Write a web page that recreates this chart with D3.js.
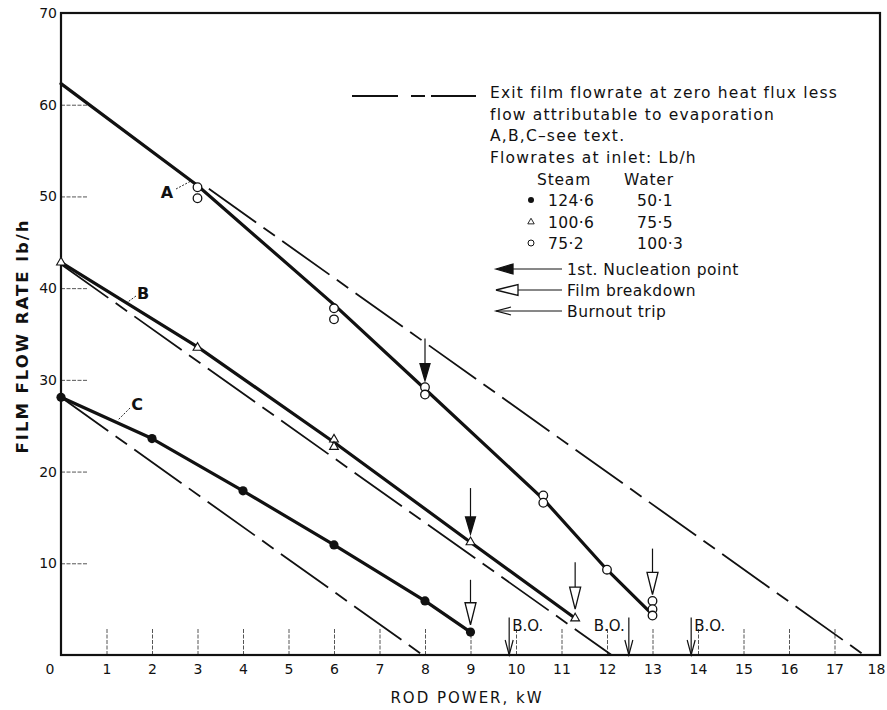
<!DOCTYPE html>
<html>
<head>
<meta charset="utf-8">
<script src="https://cdn.jsdelivr.net/npm/d3@7/dist/d3.min.js"></script>
<style>
  body { margin: 0; background: #fff; }
  text { font-family: "DejaVu Sans", "Liberation Sans", Arial, sans-serif; fill: #111; }
</style>
</head>
<body>
<svg id="chart" width="887" height="710"></svg>
<script>
// ---- axis ticks ----
const xTickValues = d3.range(1, 19);          // 1 … 18 kW
const yTickValues = [10, 20, 30, 40, 50, 60, 70];

// ---- curve A: steam 75·2, water 100·3 (open circles) ----
const aPointsX = [3, 3, 6, 6, 8, 8, 10.6, 10.6, 12, 13, 13, 13];
const aPointsY = [51.0, 49.8, 37.8, 36.6, 29.2, 28.4, 17.4, 16.6, 9.3, 5.9, 5.0, 4.3];
const aLineX = [0, 3, 6, 8, 10.6, 12, 13];
const aLineY = [62.3, 51.2, 38.2, 29.0, 17.0, 9.3, 4.4];

// ---- curve B: steam 100·6, water 75·5 (triangles) ----
const bPointsX = [0, 3, 6, 6, 9, 11.3];
const bPointsY = [42.8, 33.5, 23.5, 22.7, 12.3, 4.0];
const bLineX = [0, 3, 6, 9, 11.3];
const bLineY = [42.8, 33.6, 23.2, 12.3, 4.0];

// ---- curve C: steam 124·6, water 50·1 (filled circles) ----
const cPointsX = [0, 2, 4, 6, 8, 9];
const cPointsY = [28.1, 23.6, 17.9, 12.0, 5.9, 2.5];

// ---- zero-heat-flux lines less evaporation (long dash) ----
// intercepts on each axis, and the rod power where the dashed part starts
const zeroFluxY0 = [62.3, 42.6, 28.1];
const zeroFluxX0 = [17.65, 12.1, 7.95];
const zeroFluxDashFrom = [3.25, 0, 0];

// ---- event arrows: x position, shaft start value, tip value ----
const nucleationX = [8, 9];
const nucleationFrom = [34.5, 18.2];
const nucleationTo = [29.9, 13.2];
const breakdownX = [9, 11.3, 13];
const breakdownFrom = [8.2, 10.1, 11.6];
const breakdownTo = [3.3, 5.0, 6.6];
const burnoutX = [9.85, 12.48, 13.85];
const burnoutFrom = [4.1, 4.1, 4.1];
const burnoutLabelSide = ["right", "left", "right"];

// ---- legend text ----
const legendLines = [
  "Exit film flowrate at zero heat flux less",
  "flow attributable to evaporation",
  "A,B,C\u2013see text.",
  "Flowrates at inlet: Lb/h"
];
const legendSteam = ["124\u00b76", "100\u00b76", "75\u00b72"];
const legendWater = ["50\u00b71", "75\u00b75", "100\u00b73"];
const legendArrowLabels = ["1st. Nucleation point", "Film breakdown", "Burnout trip"];

// ---- scales ----
const svg = d3.select("#chart");
const x = d3.scaleLinear().domain([0, 18]).range([61, 880]);
const y = d3.scaleLinear().domain([0, 70]).range([655, 13]);
const FONT = "DejaVu Sans, Liberation Sans, Arial, sans-serif";

// ---- axes with inward ticks ----
const xAxis = d3.axisBottom(x).tickValues(xTickValues).tickSizeInner(-27).tickSizeOuter(0).tickPadding(9);
const gx = svg.append("g").attr("transform", `translate(0,${y(0)})`).call(xAxis);
gx.select(".domain").remove();
gx.selectAll(".tick line").attr("stroke", "#555").attr("stroke-width", 1).attr("stroke-dasharray", "4,1.5");
gx.selectAll(".tick text").attr("font-size", 14).style("font-family", FONT).attr("fill", "#111");
gx.selectAll(".tick").filter(d => d === 18).select("line").remove();
gx.selectAll(".tick").filter(d => d === 18).select("text").attr("dx", -4);

const yAxis = d3.axisLeft(y).tickValues(yTickValues).tickSizeInner(-26).tickSizeOuter(0).tickPadding(4);
const gy = svg.append("g").attr("transform", `translate(${x(0)},0)`).call(yAxis);
gy.select(".domain").remove();
gy.selectAll(".tick line").attr("stroke", "#555").attr("stroke-width", 1).attr("stroke-dasharray", "4,1.5");
gy.selectAll(".tick text").attr("font-size", 14).style("font-family", FONT).attr("fill", "#111");
gy.selectAll(".tick").filter(d => d === 70).select("line").remove();

// corner zero
svg.append("text").attr("x", x(0) - 11).attr("y", y(0) + 19).attr("text-anchor", "middle")
  .attr("font-size", 14).text("0");

// frame
svg.append("rect").attr("x", x(0)).attr("y", y(70)).attr("width", x(18) - x(0)).attr("height", y(0) - y(70))
  .attr("fill", "none").attr("stroke", "#111").attr("stroke-width", 2.2);

// axis titles
svg.append("text").attr("transform", `translate(28,${(y(0) + y(70)) / 2 + 2}) rotate(-90)`)
  .attr("text-anchor", "middle").attr("font-size", 16.5).attr("font-weight", "bold")
  .attr("letter-spacing", 2).text("FILM FLOW RATE  lb/h");
svg.append("text").attr("x", 467).attr("y", 703).attr("text-anchor", "middle")
  .attr("font-size", 15).attr("letter-spacing", 2).text("ROD POWER,  kW");

// ---- zero-flux dashed lines ----
const dashPattern = "58,9,14,9";
zeroFluxY0.forEach((y0, i) => {
  const x0 = zeroFluxX0[i], xs = zeroFluxDashFrom[i];
  const ys = y0 * (1 - xs / x0);
  svg.append("line")
    .attr("x1", x(xs)).attr("y1", y(ys))
    .attr("x2", x(x0)).attr("y2", y(0))
    .attr("stroke", "#111").attr("stroke-width", 1.8).attr("stroke-dasharray", dashPattern);
});

// ---- solid data lines ----
const line = d3.line().x(d => x(d[0])).y(d => y(d[1]));
function solid(xs, ys) {
  svg.append("path").datum(xs.map((v, i) => [v, ys[i]])).attr("d", line)
    .attr("fill", "none").attr("stroke", "#111").attr("stroke-width", 3.2)
    .attr("stroke-linejoin", "round").attr("stroke-linecap", "round");
}
solid(aLineX, aLineY);
solid(bLineX, bLineY);
solid(cPointsX, cPointsY);

// ---- markers ----
svg.append("g").selectAll("circle").data(aPointsX.map((v, i) => [v, aPointsY[i]])).join("circle")
  .attr("cx", d => x(d[0])).attr("cy", d => y(d[1])).attr("r", 4.3)
  .attr("fill", "#fff").attr("stroke", "#111").attr("stroke-width", 1.3);

const tri = d3.symbol().type(d3.symbolTriangle).size(34);
svg.append("g").selectAll("path").data(bPointsX.map((v, i) => [v, bPointsY[i]])).join("path")
  .attr("d", tri).attr("transform", d => `translate(${x(d[0])},${y(d[1])})`)
  .attr("fill", "#fff").attr("stroke", "#111").attr("stroke-width", 1.1);

svg.append("g").selectAll("circle").data(cPointsX.map((v, i) => [v, cPointsY[i]])).join("circle")
  .attr("cx", d => x(d[0])).attr("cy", d => y(d[1])).attr("r", 4.6).attr("fill", "#111");

// ---- arrows ----
function arrow(x1, y1, x2, y2, kind, sw) {
  const dx = x2 - x1, dy = y2 - y1, len = Math.hypot(dx, dy);
  const ux = dx / len, uy = dy / len, nx = -uy, ny = ux;
  const L = kind === "filled" ? 17 : kind === "open" ? 22 : 15;
  const w = kind === "filled" ? 5 : kind === "open" ? 5.5 : 4;
  const bx = x2 - ux * L, by = y2 - uy * L;
  const g = svg.append("g").attr("stroke", "#111").attr("fill", "none");
  if (kind === "vee") {
    g.append("line").attr("x1", x1).attr("y1", y1).attr("x2", x2).attr("y2", y2).attr("stroke-width", sw);
    g.append("polyline").attr("points", `${bx + nx * w},${by + ny * w} ${x2},${y2} ${bx - nx * w},${by - ny * w}`)
      .attr("stroke-width", 1.2);
  } else {
    g.append("line").attr("x1", x1).attr("y1", y1).attr("x2", bx).attr("y2", by).attr("stroke-width", sw);
    g.append("polygon").attr("points", `${x2},${y2} ${bx + nx * w},${by + ny * w} ${bx - nx * w},${by - ny * w}`)
      .attr("fill", kind === "filled" ? "#111" : "#fff").attr("stroke-width", 1.3);
  }
}
nucleationX.forEach((v, i) => arrow(x(v), y(nucleationFrom[i]), x(v), y(nucleationTo[i]), "filled", 1.2));
breakdownX.forEach((v, i) => arrow(x(v), y(breakdownFrom[i]), x(v), y(breakdownTo[i]), "open", 1.2));
burnoutX.forEach((v, i) => {
  arrow(x(v), y(burnoutFrom[i]), x(v), y(0), "vee", 1.2);
  const right = burnoutLabelSide[i] === "right";
  svg.append("text").attr("x", right ? x(v) + 3 : x(v) - 4).attr("y", y(burnoutFrom[i]) + 14)
    .attr("text-anchor", right ? "start" : "end").attr("font-size", 15).text("B.O.");
});

// ---- curve labels with leaders ----
const curveLabels = [
  { t: "A", lx: 167, ly: 198, x1: 176, y1: 189, x2: 191, y2: 181 },
  { t: "B", lx: 143, ly: 299, x1: 136, y1: 296, x2: 125, y2: 304 },
  { t: "C", lx: 137, ly: 410, x1: 130, y1: 408, x2: 118, y2: 420 }
];
curveLabels.forEach(c => {
  svg.append("line").attr("x1", c.x1).attr("y1", c.y1).attr("x2", c.x2).attr("y2", c.y2)
    .attr("stroke", "#111").attr("stroke-width", 0.9).attr("stroke-dasharray", "2,1.5");
  svg.append("text").attr("x", c.lx).attr("y", c.ly).attr("text-anchor", "middle")
    .attr("font-size", 16).attr("font-weight", "bold").text(c.t);
});

// ---- legend ----
const lg = svg.append("g");
lg.append("line").attr("x1", 352).attr("x2", 476).attr("y1", 96).attr("y2", 96)
  .attr("stroke", "#111").attr("stroke-width", 1.8).attr("stroke-dasharray", "46,13,14,6,61");
legendLines.forEach((t, i) => {
  lg.append("text").attr("x", 490).attr("y", 98 + i * 21.5).attr("font-size", 15.5)
    .attr("letter-spacing", 1.2).text(t);
});
lg.append("text").attr("x", 537).attr("y", 185).attr("font-size", 15.5).attr("letter-spacing", 0.8).text("Steam");
lg.append("text").attr("x", 624).attr("y", 185).attr("font-size", 15.5).attr("letter-spacing", 0.8).text("Water");
legendSteam.forEach((t, i) => {
  const yy = 200 + i * 21.5;
  lg.append("text").attr("x", 548).attr("y", yy + 6).attr("font-size", 15.5).attr("letter-spacing", 0.4).text(t);
  lg.append("text").attr("x", 637).attr("y", yy + 6).attr("font-size", 15.5).attr("letter-spacing", 0.4).text(legendWater[i]);
});
lg.append("circle").attr("cx", 531).attr("cy", 200).attr("r", 3).attr("fill", "#111");
lg.append("path").attr("d", d3.symbol().type(d3.symbolTriangle).size(18)).attr("transform", "translate(531,222)")
  .attr("fill", "#fff").attr("stroke", "#111").attr("stroke-width", 0.9);
lg.append("circle").attr("cx", 531).attr("cy", 243).attr("r", 3).attr("fill", "#fff").attr("stroke", "#111").attr("stroke-width", 1);

const legendKinds = ["filled", "open", "vee"];
legendArrowLabels.forEach((t, i) => {
  const yy = 269 + i * 21;
  arrow(562, yy, 496, yy, legendKinds[i], 1);
  lg.append("text").attr("x", 567).attr("y", yy + 6).attr("font-size", 15.5).attr("letter-spacing", 0.5).text(t);
});
</script>
</body>
</html>
